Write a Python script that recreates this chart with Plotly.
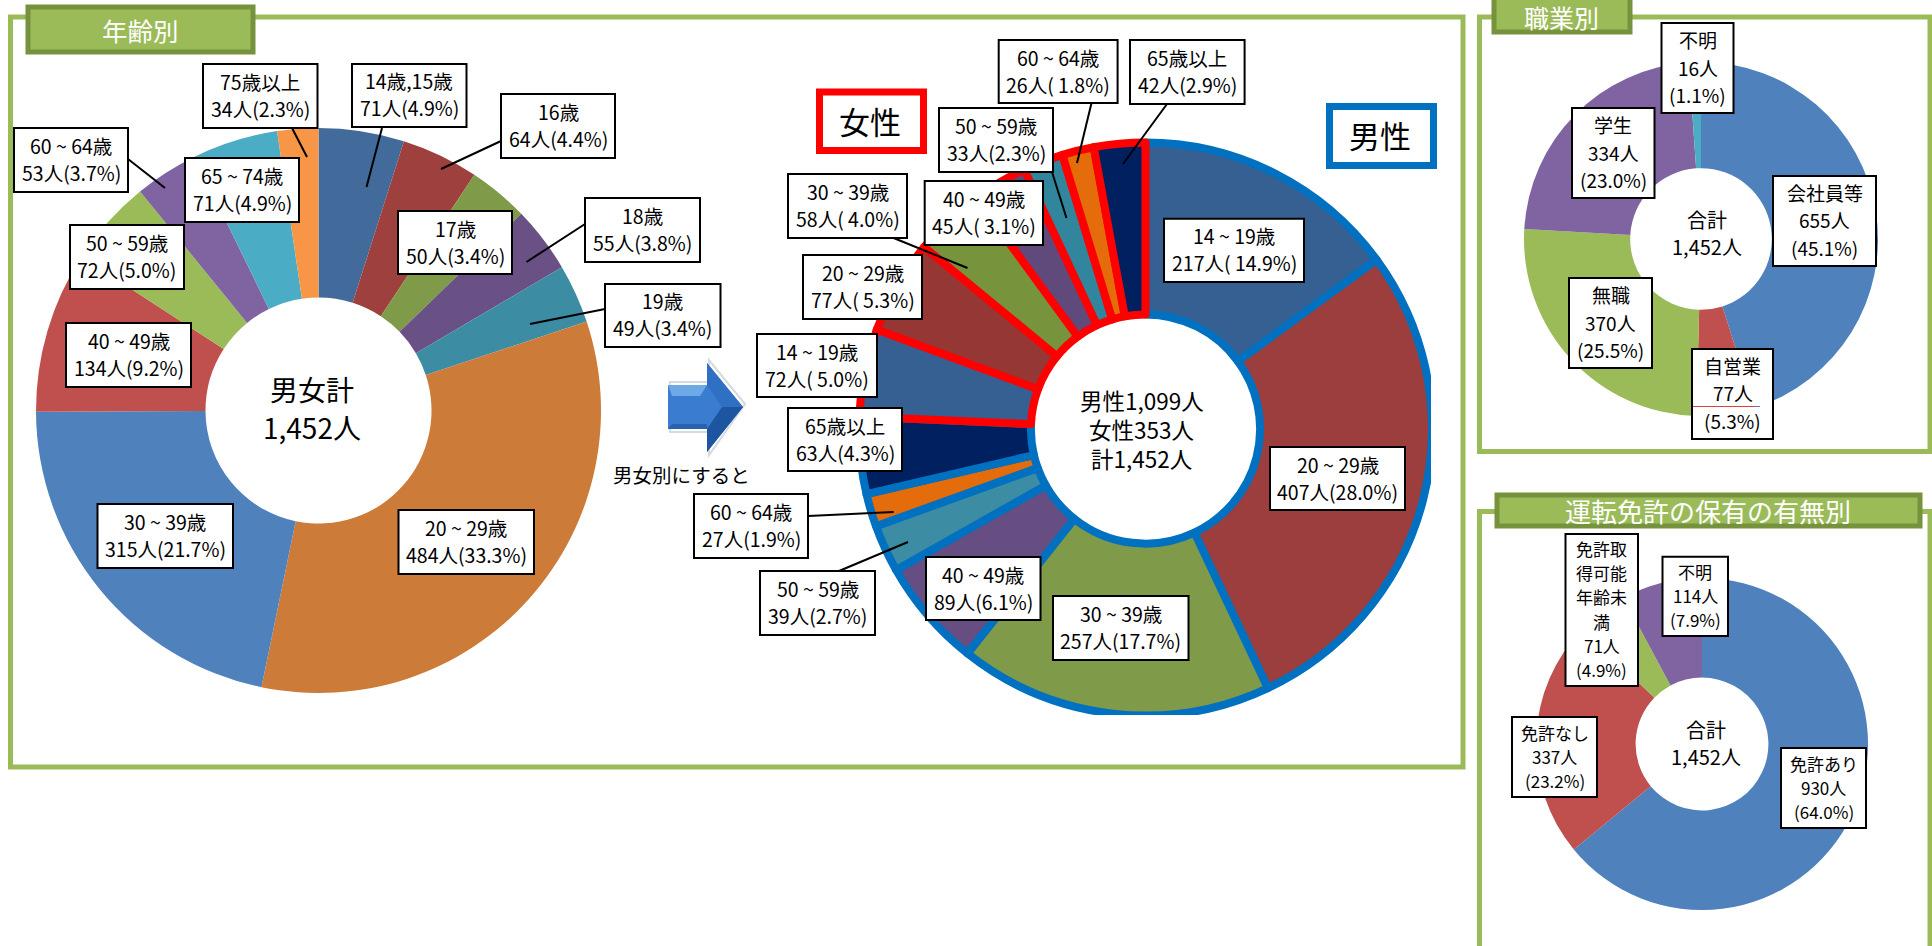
import plotly.graph_objects as go

W, H = 1932, 946

# ---------- data ----------
age_labels = ["14歳,15歳", "16歳", "17歳", "18歳", "19歳", "20 ~ 29歳", "30 ~ 39歳", "40 ~ 49歳",
              "50 ~ 59歳", "60 ~ 64歳", "65 ~ 74歳", "75歳以上"]
age_values = [71, 64, 50, 55, 49, 484, 315, 134, 72, 53, 71, 34]

sex_labels = ["男14 ~ 19歳", "男20 ~ 29歳", "男30 ~ 39歳", "男40 ~ 49歳", "男50 ~ 59歳", "男60 ~ 64歳", "男65歳以上",
              "女14 ~ 19歳", "女20 ~ 29歳", "女30 ~ 39歳", "女40 ~ 49歳", "女50 ~ 59歳", "女60 ~ 64歳", "女65歳以上"]
sex_values = [217, 407, 257, 89, 39, 27, 63, 72, 77, 58, 45, 33, 26, 42]

job_labels = ["会社員等", "自営業", "無職", "学生", "不明"]
job_values = [655, 77, 370, 334, 16]

lic_labels = ["免許あり", "免許なし", "免許取得可能年齢未満", "不明"]
lic_values = [930, 337, 71, 114]

# ---------- styles ----------
age_colors = ["#426B9C", "#9E413E", "#7F9A48", "#695185", "#3C8DA3", "#CC7B38",
              "#4F81BD", "#C0504D", "#9BBB59", "#8064A2", "#4BACC6", "#F79646"]
sex_colors = ["#376092", "#9C3E3D", "#7F9A48", "#664E82", "#3C8DA3", "#E46C0A", "#002060",
              "#376092", "#953735", "#77933C", "#604A7B", "#31859C", "#E46C0A", "#002060"]
job_colors = ["#4F81BD", "#C0504D", "#9BBB59", "#8064A2", "#4BACC6"]
lic_colors = ["#4F81BD", "#C0504D", "#9BBB59", "#8064A2"]
GREEN, GREEN_D, BLUE, RED = "#9BBB59", "#76923C", "#0070C0", "#FF0000"
FONT = "Noto Sans CJK JP"

def px(x): return x / W
def py(y): return 1 - y / H

def pie(labels, values, colors, cx, cy, r, hole, line=None, lw=0):
    return go.Pie(labels=labels, values=values, sort=False, direction="clockwise", rotation=0,
                  textinfo="none", hole=hole, showlegend=False, hoverinfo="label+value+percent",
                  domain=dict(x=[px(cx - r), px(cx + r)], y=[py(cy + r), py(cy - r)]),
                  marker=dict(colors=colors, line=dict(color=line or "rgba(0,0,0,0)", width=lw)))

fig = go.Figure()
fig.add_trace(pie(age_labels, age_values, age_colors, 318.5, 410.5, 282.5, 0.4))
sex_lines = [BLUE] * 7 + [RED] * 7
fig.add_trace(pie(sex_labels, sex_values, sex_colors, 1145.5, 429, 286.5, 0.4, sex_lines, 8))
fig.add_trace(pie(job_labels, job_values, job_colors, 1701, 239, 177, 0.4))
fig.add_trace(pie(lic_labels, lic_values, lic_colors, 1702, 744, 166, 0.4))

shapes, annos = [], []

def rect(x0, y0, x1, y1, fill="rgba(0,0,0,0)", line="#000", lw=2):
    shapes.append(dict(type="rect", xref="paper", yref="paper", x0=px(x0), x1=px(x1), y0=py(y1), y1=py(y0),
                       fillcolor=fill, line=dict(color=line, width=lw), layer="above"))

def seg(x0, y0, x1, y1, color="#000", lw=2):
    shapes.append(dict(type="line", xref="paper", yref="paper", x0=px(x0), x1=px(x1), y0=py(y0), y1=py(y1),
                       line=dict(color=color, width=lw), layer="above"))

def poly(points, fill, line=None, lw=0):
    path = "M " + " L ".join("{} {}".format(px(a), py(b)) for a, b in points) + " Z"
    shapes.append(dict(type="path", xref="paper", yref="paper", path=path, fillcolor=fill,
                       line=dict(color=line or "rgba(0,0,0,0)", width=lw), layer="above"))

def text(cx, cy, lines, size, pitch, color="#000"):
    top = cy - pitch * (len(lines) - 1) / 2
    for i, s in enumerate(lines):
        annos.append(dict(xref="paper", yref="paper", x=px(cx), y=py(top + i * pitch), text=s, showarrow=False,
                          xanchor="center", yanchor="middle", font=dict(family=FONT, size=size, color=color)))

def box(x0, y0, x1, y1, lines, size=19.5, pitch=27):
    rect(x0, y0, x1, y1, fill="#FFFFFF", line="#000", lw=2)
    text((x0 + x1) / 2, (y0 + y1) / 2 - 1, lines, size, pitch)

# panels
rect(10.5, 17, 1463, 767, line=GREEN, lw=5)
rect(1479.5, 17, 1930, 451.5, line=GREEN, lw=5)
rect(1479.5, 511.5, 1930, 952, line=GREEN, lw=5)

# titles
for x0, y0, x1, y1, t, tx, ty, sz in [
    (28, 7, 253, 52, "年齢別", 140, 29, 25.5),
    (1494, -3, 1630, 32, "職業別", 1561, 16.5, 25),
    (1497, 495, 1920, 526, "運転免許の保有の有無別", 1708, 510.5, 26),
]:
    rect(x0, y0, x1, y1, fill=GREEN, line=GREEN_D, lw=5)
    text(tx, ty, [t], sz, 30, "#FFFFFF")

# clip of the second pie (the original picture is cropped)
rect(1431, 120, 1452, 730, fill="#FFFFFF", line="#FFFFFF", lw=0)
rect(840, 715, 1452, 730, fill="#FFFFFF", line="#FFFFFF", lw=0)

# arrow
ARROW = [(668, 385), (707, 385), (707, 363), (743, 407), (707, 452), (707, 429), (668, 429)]
poly([(a + 2, b + (1 if b > 407 else -1) * 3) for a, b in ARROW], "#FFFFFF", "#D5DAE0", 2)
poly(ARROW, "#3A7CCF")
poly([(668, 385), (707, 385), (700, 396), (672, 396)], "#6CA9E6")
poly([(668, 429), (707, 429), (707, 424), (672, 424)], "#2A62AE")
poly([(707, 363), (743, 407), (722, 407), (707, 385)], "#2F6FC4")
poly([(707, 452), (743, 407), (722, 407), (707, 429)], "#1D55A0")
text(681.5, 474, ["男女別にすると"], 19.5, 26)

# leaders, first pie
for a in [(292, 128, 307, 157), (382, 128, 366.5, 187), (501, 141, 441, 169), (128, 159, 165, 188),
          (585, 224, 526.5, 262), (605, 309, 530, 324)]:
    seg(*a)
# leaders, second pie
for a in [(1091.5, 103, 1077, 163), (1167, 104, 1123, 164), (1052, 172, 1066.5, 218), (893.6, 238, 967.5, 268),
          (808, 516, 893.6, 512), (839, 571, 908, 542)]:
    seg(*a)

# first pie boxes
box(203, 64, 317.5, 128, ["75歳以上", "34人(2.3%)"])
box(352, 64, 466.5, 127, ["14歳,15歳", "71人(4.9%)"])
box(501, 94, 615, 158, ["16歳", "64人(4.4%)"])
box(14, 128, 128, 192, ["60 ~ 64歳", "53人(3.7%)"])
box(185, 158, 299, 222, ["65 ~ 74歳", "71人(4.9%)"])
box(398, 211, 512, 274, ["17歳", "50人(3.4%)"])
box(585, 198, 700, 262, ["18歳", "55人(3.8%)"])
box(605, 284, 720.5, 347, ["19歳", "49人(3.4%)"])
box(70, 225, 184, 289, ["50 ~ 59歳", "72人(5.0%)"])
box(66, 323, 191, 387, ["40 ~ 49歳", "134人(9.2%)"])
box(97.5, 504, 233, 568, ["30 ~ 39歳", "315人(21.7%)"])
box(398.5, 510, 534, 574, ["20 ~ 29歳", "484人(33.3%)"])
text(312, 408, ["男女計", "1,452人"], 28, 37)

# second pie boxes
box(998.7, 40, 1117.6, 103, ["60 ~ 64歳", "26人( 1.8%)"])
box(1130, 40, 1244.6, 104, ["65歳以上", "42人(2.9%)"])
box(939, 108, 1053, 172, ["50 ~ 59歳", "33人(2.3%)"])
box(788, 174, 907, 238, ["30 ~ 39歳", "58人( 4.0%)"])
box(924.7, 181, 1043, 245, ["40 ~ 49歳", "45人( 3.1%)"])
box(1164, 218.7, 1304, 282, ["14 ~ 19歳", "217人( 14.9%)"])
box(803, 255, 922, 319, ["20 ~ 29歳", "77人( 5.3%)"])
box(757, 334, 877, 397, ["14 ~ 19歳", "72人( 5.0%)"])
box(788, 408, 902, 471, ["65歳以上", "63人(4.3%)"])
box(694, 494, 808, 558, ["60 ~ 64歳", "27人(1.9%)"])
box(760, 571, 875, 635, ["50 ~ 59歳", "39人(2.7%)"])
box(926, 557, 1040.5, 620, ["40 ~ 49歳", "89人(6.1%)"])
box(1053, 596, 1188.5, 660, ["30 ~ 39歳", "257人(17.7%)"])
box(1270, 447, 1405, 510, ["20 ~ 29歳", "407人(28.0%)"])
text(1141.5, 429, ["男性1,099人", "女性353人", "計1,452人"], 22.5, 29.3)

rect(819.5, 92, 923.5, 150.5, fill="#FFFFFF", line=RED, lw=7)
text(869.5, 120.5, ["女性"], 31, 36)
rect(1329.5, 106.5, 1433.5, 165.5, fill="#FFFFFF", line=BLUE, lw=7)
text(1380, 135, ["男性"], 31, 36)

# job pie boxes
box(1661.5, 23, 1733.5, 113, ["不明", "16人", "(1.1%)"], 19, 27.5)
box(1572, 108, 1654.5, 198, ["学生", "334人", "(23.0%)"], 19, 27.5)
box(1773, 176, 1876, 266, ["会社員等", "655人", "(45.1%)"], 19, 27.5)
box(1569, 278, 1652, 368, ["無職", "370人", "(25.5%)"], 19, 27.5)
box(1692, 349, 1773, 439, ["自営業", "77人", "(5.3%)"], 19, 27.5)
seg(1693, 406.5, 1755, 406.5, "#E0403C", 1)
seg(1755, 406.5, 1760, 406.5, "#4F81BD", 1)
text(1707, 233, ["合計", "1,452人"], 20, 26.1)

# licence pie boxes
box(1662.5, 556.7, 1728, 636, ["不明", "114人", "(7.9%)"], 17, 24)
box(1565.5, 534, 1638, 686, ["免許取", "得可能", "年齢未", "満", "71人", "(4.9%)"], 17, 24.3)
box(1512, 717, 1597, 797, ["免許なし", "337人", "(23.2%)"], 17, 24)
box(1781, 748, 1866, 828, ["免許あり", "930人", "(64.0%)"], 17, 24)
text(1706, 743, ["合計", "1,452人"], 20, 26.1)

fig.update_layout(width=W, height=H, margin=dict(l=0, r=0, t=0, b=0, pad=0), autosize=False,
                  paper_bgcolor="#FFFFFF", plot_bgcolor="#FFFFFF", showlegend=False,
                  shapes=shapes, annotations=annos, font=dict(family=FONT))
fig.write_html("out.html", config=dict(displayModeBar=False),
               post_script="document.body.style.margin='0';document.body.style.overflow='hidden';")
